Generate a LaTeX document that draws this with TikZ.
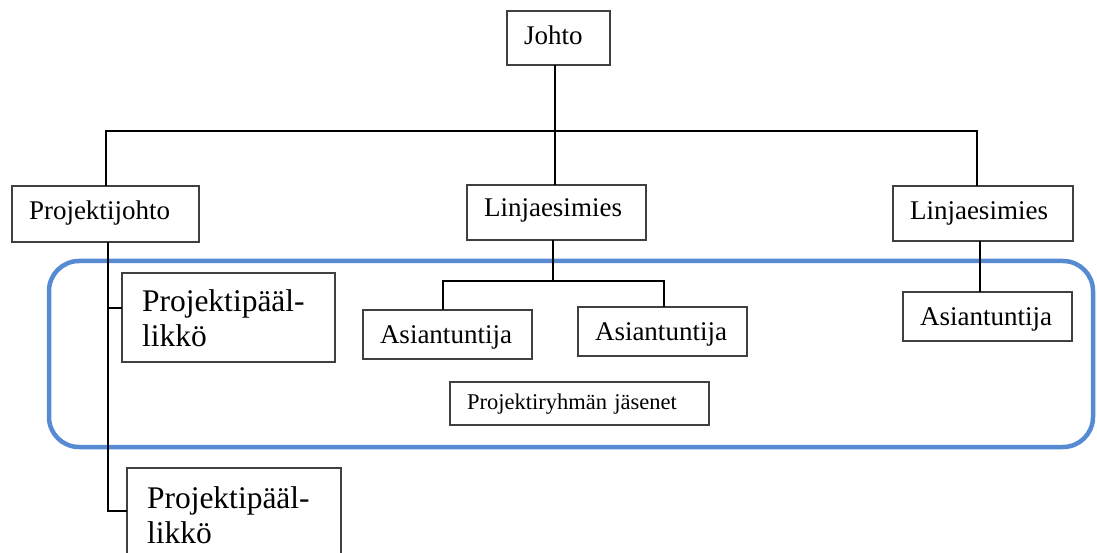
\documentclass[tikz,border=0pt]{standalone}
\usepackage{fontspec}
\setmainfont{Liberation Serif}
\definecolor{teamblue}{RGB}{86,139,211}
\begin{document}
\begin{tikzpicture}[x=1pt,y=-1pt,
  box/.style={draw=black!75, line width=1.3pt, fill=white, inner xsep=17pt,
    inner ysep=0pt, outer sep=0pt, anchor=base west, align=left,
    font=\fontsize{27}{32}\selectfont},
  bigbox/.style={box, inner xsep=20pt, font=\fontsize{31.5}{35}\selectfont},
  smallbox/.style={box, font=\fontsize{22.5}{26}\selectfont},
  conn/.style={line width=2pt, black},
  teamframe/.style={draw=teamblue, line width=4.5pt, rounded corners=30pt}]
\useasboundingbox (0,0) rectangle (1097,553);
\clip (0,0) rectangle (1097,553);

% project team frame
\draw[teamframe] (49,261) rectangle (1093,447);

% boxes: placed at left edge / text baseline
\node[box, text width=69pt, text height=34pt, text depth=20pt] (johto) at (507,45) {Johto};
\node[box, text width=153pt, text height=33.5pt, text depth=22.5pt] (pj) at (12,219.5) {Projektijohto};
\node[box, text width=145pt, text height=32pt, text depth=23pt] (le1) at (467,217) {Linjaesimies};
\node[box, text width=146pt, text height=34pt, text depth=21pt] (le2) at (893,220) {Linjaesimies};
\node[box, text width=135pt, text height=33pt, text depth=16pt] (as1) at (363,343) {Asiantuntija};
\node[box, text width=135pt, text height=33pt, text depth=16pt] (as2) at (578,340) {Asiantuntija};
\node[box, text width=135pt, text height=33pt, text depth=16pt] (as3) at (903,325) {Asiantuntija};
\node[smallbox, text width=225pt, text height=27pt, text depth=16pt] (prj) at (450,409) {Projektiryhmän jäsenet};
\node[bigbox, text width=173pt, text height=38.7pt, text depth=50.3pt] (pp1) at (122,311.7) {Projektipääl-\\likkö};
\node[bigbox, text width=174pt, text height=40pt, text depth=72pt] (pp2) at (127,508) {Projektipääl-\\likkö};

% top-level bus
\coordinate (busL) at (106,131);
\coordinate (busM) at (555,131);
\coordinate (busR) at (977,131);
\draw[conn] (busL |- pj.north) -- (busL) -- (busR) -- (busR |- le2.north);
\draw[conn] (busM |- johto.south) -- (busM) -- (busM |- le1.north);

% project management spine
\coordinate (spine) at (108,0);
\coordinate (pp1c) at (108,308);
\coordinate (pp2c) at (108,511);
\draw[conn] (spine |- pj.south) -- (pp2c) -- (pp2c -| pp2.west);
\draw[conn] (pp1c) -- (pp1c -| pp1.west);

% line manager branches
\coordinate (tm) at (553,281);
\coordinate (tl) at (443,281);
\coordinate (tr) at (664,281);
\draw[conn] (tm |- le1.south) -- (tm);
\draw[conn] (tl |- as1.north) -- (tl) -- (tr) -- (tr |- as2.north);
\coordinate (rr) at (980,0);
\draw[conn] (rr |- le2.south) -- (rr |- as3.north);
\end{tikzpicture}
\end{document}
